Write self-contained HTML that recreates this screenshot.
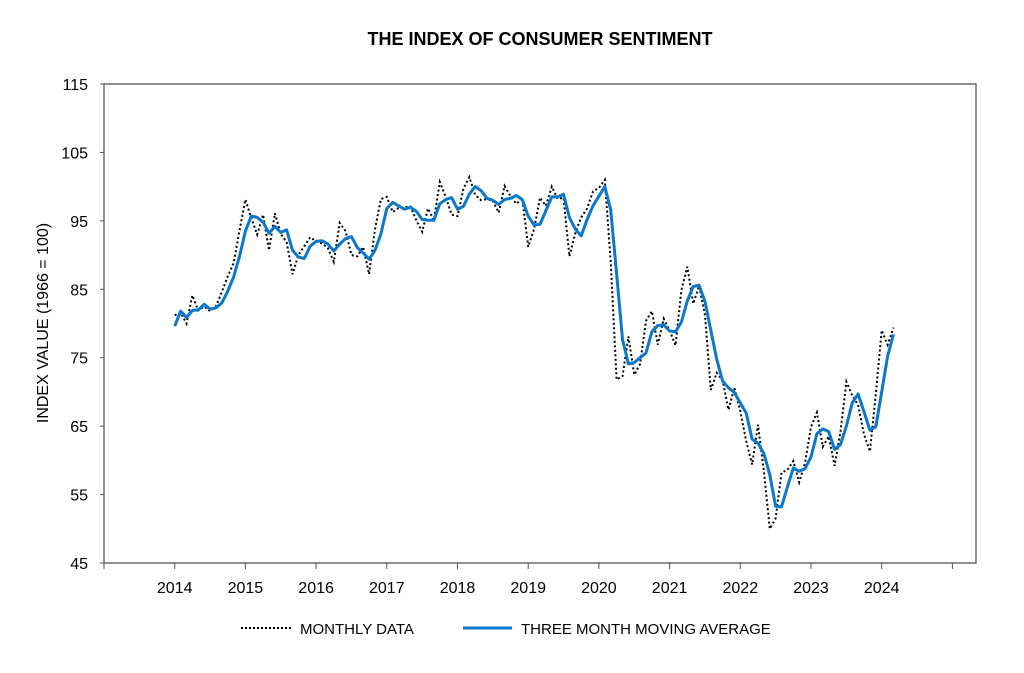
<!DOCTYPE html>
<html><head><meta charset="utf-8"><style>
body{margin:0;background:#fff;width:1024px;height:668px;overflow:hidden;font-family:"Liberation Sans",Arial,sans-serif}
</style></head><body>
<svg id="chart" width="1024" height="668" xmlns="http://www.w3.org/2000/svg" font-family="Liberation Sans, Arial, sans-serif">
<text x="540" y="45" text-anchor="middle" font-size="18" font-weight="bold">THE INDEX OF CONSUMER SENTIMENT</text>
<text transform="translate(48,323) rotate(-90)" text-anchor="middle" font-size="16">INDEX VALUE (1966 = 100)</text>
<g id="axes"></g>
<g id="series"></g>
<g>
<line x1="241" y1="628" x2="292" y2="628" stroke="#000" stroke-width="2" stroke-dasharray="2,2"/>
<text x="300" y="634" font-size="15">MONTHLY DATA</text>
<line x1="463" y1="628" x2="512" y2="628" stroke="#0a78cc" stroke-width="3"/>
<text x="521" y="634" font-size="15">THREE MONTH MOVING AVERAGE</text>
</g>
</svg>
<script>
const yTicks=[45,55,65,75,85,95,105,115];
const xYears=[2014,2015,2016,2017,2018,2019,2020,2021,2022,2023,2024];
const monthly=[81.2,81.6,80.0,84.1,81.9,82.5,81.8,82.5,84.6,86.9,88.8,93.6,
98.1,95.4,93.0,95.9,90.7,96.1,93.1,91.9,87.2,90.0,91.3,92.6,
92.0,91.7,91.0,89.0,94.7,93.5,90.0,89.8,91.2,87.2,93.8,98.2,
98.5,96.3,96.9,97.0,97.1,95.1,93.4,96.8,95.1,100.7,98.5,95.9,
95.7,99.7,101.4,98.8,98.0,98.2,97.9,96.2,100.1,98.6,97.5,98.3,
91.2,93.8,98.4,97.2,100.0,98.2,98.4,89.8,93.2,95.5,96.8,99.3,
99.8,101.0,89.1,71.8,72.3,78.1,72.5,74.1,80.4,81.8,76.9,80.7,
79.0,76.8,84.9,88.3,82.9,85.5,81.2,70.3,72.8,71.7,67.4,70.6,
67.2,62.8,59.4,65.2,58.4,50.0,51.5,58.2,58.6,59.9,56.8,59.7,
64.9,67.0,62.0,63.5,59.2,64.2,71.5,69.5,68.1,63.8,61.3,69.7,
79.0,76.9,79.4];
const movingAvg=[79.6,81.8,80.9,81.9,82.0,82.8,82.1,82.3,83.0,84.7,86.8,89.8,
93.5,95.7,95.5,94.8,93.2,94.2,93.3,93.7,90.7,89.7,89.5,91.3,
92.0,92.1,91.6,90.6,91.6,92.4,92.7,91.1,90.3,89.4,90.7,93.1,
96.8,97.7,97.2,96.7,97.0,96.4,95.2,95.1,95.1,97.5,98.1,98.4,
96.7,97.1,98.9,100.0,99.4,98.3,98.0,97.4,98.1,98.3,98.7,98.1,
95.7,94.4,94.5,96.5,98.5,98.5,98.9,95.5,93.8,92.8,95.2,97.2,
98.6,100.0,96.6,87.3,77.7,74.1,74.3,75.0,75.7,78.8,79.7,79.8,
78.9,78.8,80.2,83.3,85.4,85.6,83.2,79.0,74.8,71.6,70.6,69.9,
68.4,66.9,63.1,62.5,61.0,57.9,53.3,53.2,56.1,58.9,58.4,58.8,
60.5,63.9,64.6,64.2,61.6,62.3,65.0,68.4,69.7,67.1,64.4,64.9,
70.0,75.2,78.4];
const L=104,R=976,T=84,B=563,yr0=2013,yw=70.7;
const ys=v=>B-(v-45)/70*(B-T);
const xs=y=>L+(y-yr0)*yw;
const ns="http://www.w3.org/2000/svg";
const ax=document.getElementById('axes'),se=document.getElementById('series');
function mk(tag,at,par){const e=document.createElementNS(ns,tag);for(const k in at)e.setAttribute(k,at[k]);par.appendChild(e);return e;}
const fr=mk('rect',{x:L,y:T,width:R-L,height:B-T,fill:'none',stroke:'#555','stroke-width':1.3},ax);


yTicks.forEach(v=>{
 const t=mk('line',{x1:L-4,x2:L,y1:ys(v),y2:ys(v),stroke:'#555'},ax);
 
 
 const tx=mk('text',{x:88,y:ys(v)+6,'text-anchor':'end','font-size':16},ax);tx.textContent=v;
 
 
});
for(let i=0;i<=12;i++){
 const t=mk('line',{x1:xs(yr0+i),x2:xs(yr0+i),y1:B,y2:B+6,stroke:'#555'},ax);
 
 
}
xYears.forEach(y=>{
 const tx=mk('text',{x:xs(y),y:593,'text-anchor':'middle','font-size':16},ax);tx.textContent=y;
 
 
});
const pts=a=>a.map((v,i)=>xs(2014+i/12).toFixed(1)+','+ys(v).toFixed(1)).join(' ');
const m=mk('polyline',{points:pts(monthly),fill:'none',stroke:'#000','stroke-width':2,'stroke-dasharray':'2,2.5'},se);


const a=mk('polyline',{points:pts(movingAvg),fill:'none',stroke:'#0a78cc','stroke-width':3,'stroke-linejoin':'round'},se);


</script>
</body></html>
